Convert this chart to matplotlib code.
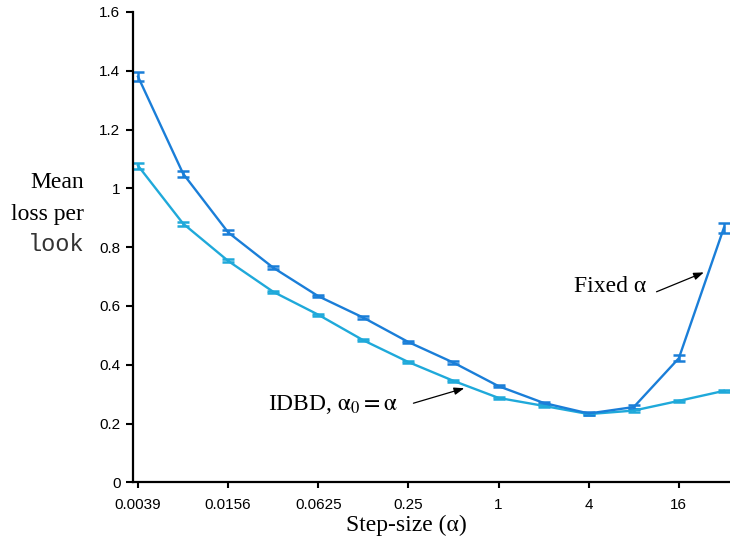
import numpy as np
import matplotlib
matplotlib.use('Agg')
import matplotlib.pyplot as plt

plt.rcParams['mathtext.fontset'] = 'stix'

# step sizes 2^-8 .. 2^5
step_sizes = [2.0 ** k for k in range(-8, 6)]

fixed_loss = [1.380, 1.050, 0.850, 0.730, 0.633, 0.560, 0.477, 0.407, 0.327, 0.270,
              0.234, 0.256, 0.422, 0.866]
fixed_err = [0.016, 0.010, 0.007, 0.005, 0.004, 0.004, 0.004, 0.004, 0.004, 0.004,
             0.004, 0.006, 0.011, 0.017]

idbd_loss = [1.077, 0.880, 0.753, 0.648, 0.570, 0.483, 0.409, 0.345, 0.287, 0.260,
             0.232, 0.244, 0.277, 0.311]
idbd_err = [0.010, 0.007, 0.005, 0.004, 0.004, 0.004, 0.004, 0.004, 0.004, 0.004,
            0.004, 0.004, 0.004, 0.004]

xtick_vals = [2.0 ** k for k in range(-8, 5, 2)]
xtick_labels = ['0.0039', '0.0156', '0.0625', '0.25', '1', '4', '16']
ytick_vals = [0, 0.2, 0.4, 0.6, 0.8, 1.0, 1.2, 1.4, 1.6]
ytick_labels = ['0', '0.2', '0.4', '0.6', '0.8', '1', '1.2', '1.4', '1.6']

fixed_col = '#1a7ed8'
idbd_col = '#1fa9da'

W, H = 730, 540
fig = plt.figure(figsize=(W / 100, H / 100), dpi=100)
ax = fig.add_axes([133 / W, 1 - 482.3 / H, (W - 133) / W, (482.3 - 11.9) / H])

ax.errorbar(step_sizes, idbd_loss, yerr=idbd_err, color=idbd_col, lw=1.7,
            capsize=4, capthick=1.8, elinewidth=1.8)
ax.errorbar(step_sizes, fixed_loss, yerr=fixed_err, color=fixed_col, lw=1.7,
            capsize=4, capthick=1.8, elinewidth=1.8)

ax.set_xscale('log', base=2)
ax.set_xlim(2 ** -8.111, 2 ** 5.135)
ax.set_ylim(0, 1.6)
ax.set_xticks(xtick_vals)
ax.set_xticklabels(xtick_labels)
ax.minorticks_off()
ax.set_yticks(ytick_vals)
ax.set_yticklabels(ytick_labels)

for s in ['top', 'right']:
    ax.spines[s].set_visible(False)
for s in ['left', 'bottom']:
    ax.spines[s].set_linewidth(1.6)
ax.tick_params(axis='both', which='major', direction='out', width=1.5,
               labelsize=11, labelfontfamily='Liberation Sans')
ax.tick_params(axis='x', length=4, pad=7)
ax.tick_params(axis='y', length=5, pad=4)

serif = 'Liberation Serif'
fig.text(406.5 / W, 1 - 531 / H, 'Step-size (α)', ha='center', va='baseline',
         fontsize=17, family=serif)
fig.text(84 / W, 1 - 188 / H, 'Mean', ha='right', va='baseline', fontsize=17, family=serif)
fig.text(84 / W, 1 - 220 / H, 'loss per', ha='right', va='baseline', fontsize=17, family=serif)
fig.text(84 / W, 1 - 251 / H, 'look', ha='right', va='baseline', fontsize=17,
         family='Liberation Mono', color='#333333')

# annotations
ax.text(9.7, 0.665, 'Fixed α', ha='right', va='center', fontsize=17, family=serif)
ax.annotate('', xy=(23.5, 0.714), xytext=(11.35, 0.648),
            arrowprops=dict(arrowstyle='-|>,head_length=0.6,head_width=0.22',
                            color='black', lw=0.9, shrinkA=0, shrinkB=0))
ax.text(0.0288, 0.266, r'IDBD, $\mathrm{\alpha}_0 = \mathrm{\alpha}$', ha='left', va='center',
        fontsize=17, family=serif)
ax.annotate('', xy=(0.59, 0.320), xytext=(0.27, 0.269),
            arrowprops=dict(arrowstyle='-|>,head_length=0.6,head_width=0.22',
                            color='black', lw=0.9, shrinkA=0, shrinkB=0))

fig.savefig('out.png', dpi=100)
